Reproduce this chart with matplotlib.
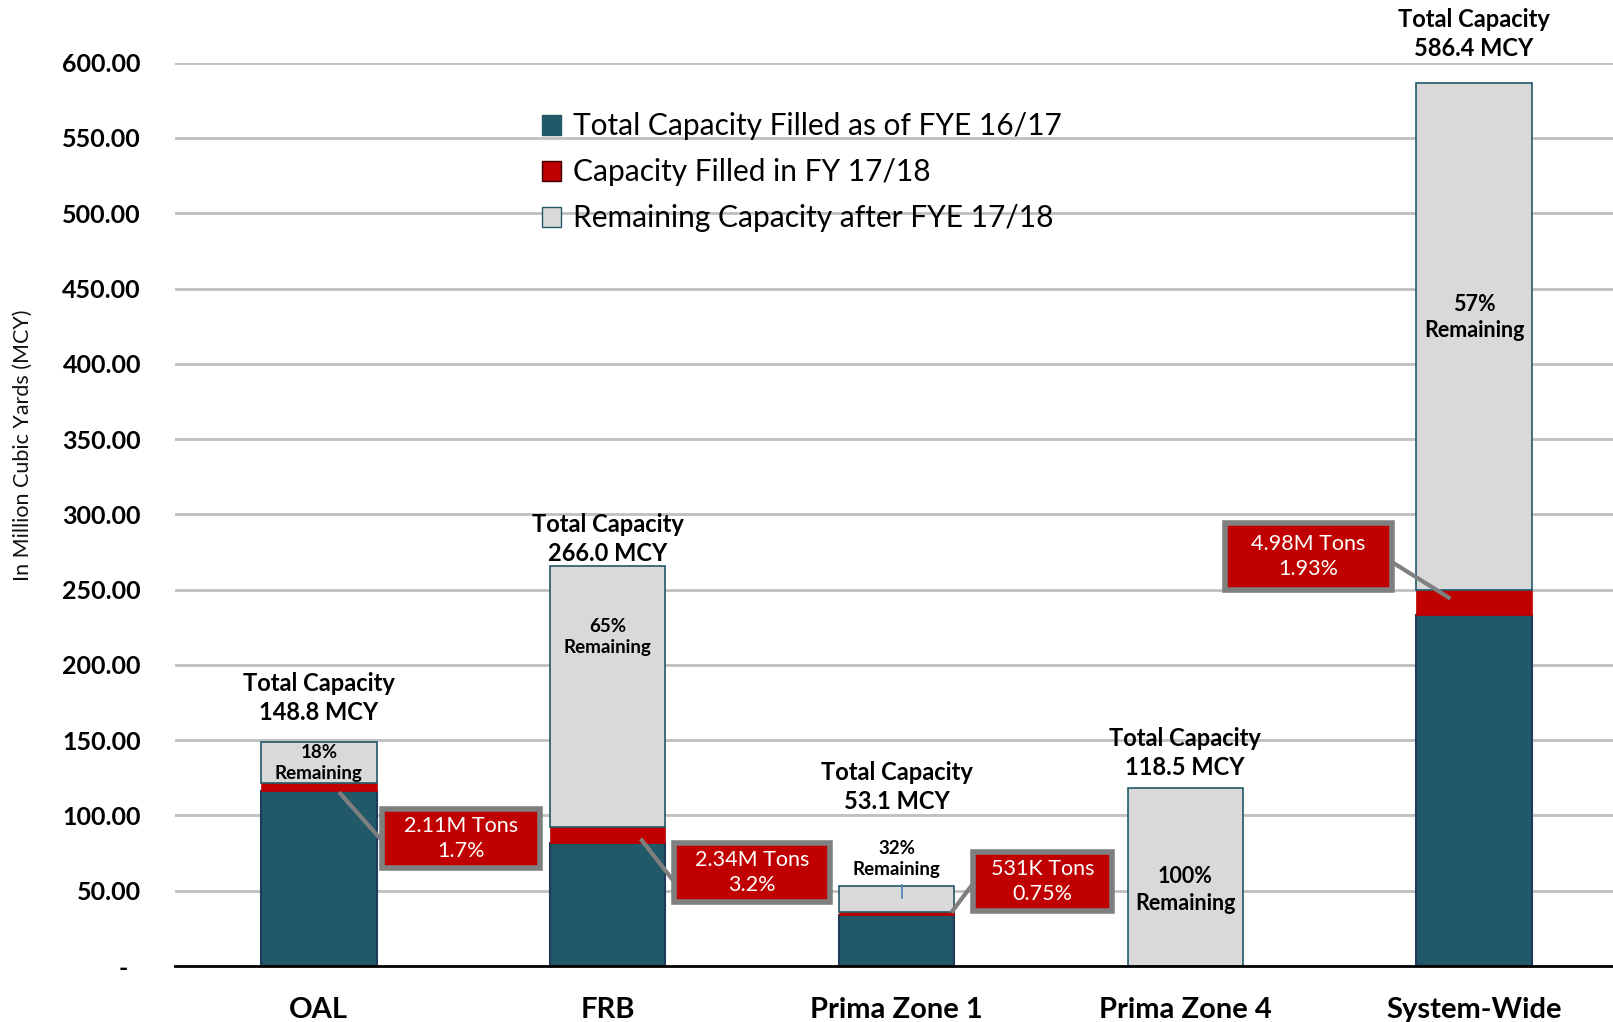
import matplotlib
matplotlib.use("Agg")
import matplotlib.pyplot as plt
from matplotlib.patches import Patch, Rectangle

plt.rcParams['font.family'] = ['Lato', 'DejaVu Sans']

# data (million cubic yards)
sites = ['OAL', 'FRB', 'Prima Zone 1', 'Prima Zone 4', 'System-Wide']
filled_1617 = [116.3, 81.5, 34.0, 0.0, 233.4]
filled_1718 = [5.0, 11.0, 2.0, 0.0, 16.6]
remaining = [27.5, 173.5, 17.1, 118.5, 336.4]
total_capacity = ['148.8', '266.0', '53.1', '118.5', '586.4']
remaining_pct = ['18%', '65%', '32%', '100%', '57%']
callout_text = ['2.11M Tons\n1.7%', '2.34M Tons\n3.2%', '531K Tons\n0.75%', None, '4.98M Tons\n1.93%']

# layout of the annotations (data coords)
total_label_y = [178, 283.5, 119, 141.5, 619]
remain_label_y = [135, 218.5, 71, 50.5, 431]
remain_label_size = [13.5, 13.5, 13.5, 15.5, 15.5]
box_center = [(0.492, 84.5), (1.499, 62), (2.506, 56), None, (3.426, 272)]
box_size = [(0.55, 39), (0.54, 39), (0.48, 39), None, (0.58, 45)]
leader = [((0.07, 115.5), (0.22, 83)), ((1.114, 84.5), (1.232, 55.5)),
          ((2.19, 35.5), (2.27, 56)), None, ((3.918, 244), (3.71, 269))]

teal = '#215968'
red = '#C00000'
grey = '#D9D9D9'

fig = plt.figure(figsize=(16.13, 10.22), dpi=100)
ax = fig.add_axes([175 / 1613, 56 / 1022, 1438 / 1613, 903.3 / 1022])

x = list(range(len(sites)))
bottom2 = [a + b for a, b in zip(filled_1617, filled_1718)]
ax.bar(x, filled_1617, width=0.4, color=teal, edgecolor='#1F3A5C', linewidth=1.5, zorder=2)
ax.bar(x, filled_1718, width=0.4, bottom=filled_1617, color=red, edgecolor=red, linewidth=0.5, zorder=2)
ax.bar(x, remaining, width=0.4, bottom=bottom2, color=grey, edgecolor=teal, linewidth=1.2, zorder=2)

ax.set_xlim(-0.498, 4.481)
ax.set_ylim(0, 600)
ax.set_yticks(range(0, 601, 50))
ax.set_yticklabels(['-  '] + ['%.2f' % v for v in range(50, 601, 50)],
                   fontsize=18, fontweight='bold')
ax.set_xticks(x)
ax.set_xticklabels(sites, fontsize=21, fontweight='bold')
ax.tick_params(axis='y', length=0, pad=24.5)
ax.tick_params(axis='x', length=0, pad=22)
ax.yaxis.grid(True, color='#BFBFBF', linewidth=2)
ax.set_axisbelow(True)
for s in ['top', 'left', 'right']:
    ax.spines[s].set_visible(False)
ax.spines['bottom'].set_color('black')
ax.spines['bottom'].set_linewidth(2)
ax.spines['bottom'].set_zorder(3)

fig.text(23 / 1613, 1 - 445 / 1022, 'In Million Cubic Yards (MCY)', rotation=90,
         fontsize=15.5, va='center', ha='center', color='#111111')

for i in x:
    ax.text(i, total_label_y[i], 'Total Capacity\n%s MCY' % total_capacity[i],
            ha='center', va='center', fontsize=17, fontweight='bold',
            linespacing=1.3, clip_on=False, zorder=4)
    ax.text(i, remain_label_y[i], '%s\nRemaining' % remaining_pct[i],
            ha='center', va='center', fontsize=remain_label_size[i], fontweight='bold',
            linespacing=1.3, zorder=4)
    if callout_text[i] is None:
        continue
    (x0, y0), (x1, y1) = leader[i]
    ax.plot([x0, x1], [y0, y1], color='#7F7F7F', linewidth=3, zorder=4,
            solid_capstyle='butt')
    cx, cy = box_center[i]
    w, h = box_size[i]
    ax.add_patch(Rectangle((cx - w / 2, cy - h / 2), w, h, facecolor=red,
                           edgecolor='#7F7F7F', linewidth=4, zorder=5))
    ax.text(cx, cy, callout_text[i], ha='center', va='center', color='white',
            fontsize=15.5, linespacing=1.3, zorder=6)

# small leader tick inside Prima Zone 1 label
ax.plot([2.02, 2.02], [45, 54], color='#4F81BD', linewidth=1.2, zorder=4)

handles = [Patch(facecolor=teal, edgecolor=teal),
           Patch(facecolor=red, edgecolor='#3A0000'),
           Patch(facecolor=grey, edgecolor=teal)]
labels = ['Total Capacity Filled as of FYE 16/17', 'Capacity Filled in FY 17/18',
          'Remaining Capacity after FYE 17/18']
ax.legend(handles, labels, loc='upper left', bbox_to_anchor=(0.255, 0.945),
          frameon=False, fontsize=21.5, handlelength=0.65, handleheight=0.65,
          handletextpad=0.4, labelspacing=0.6, borderpad=0, borderaxespad=0)

fig.savefig('out.png', dpi=100)
